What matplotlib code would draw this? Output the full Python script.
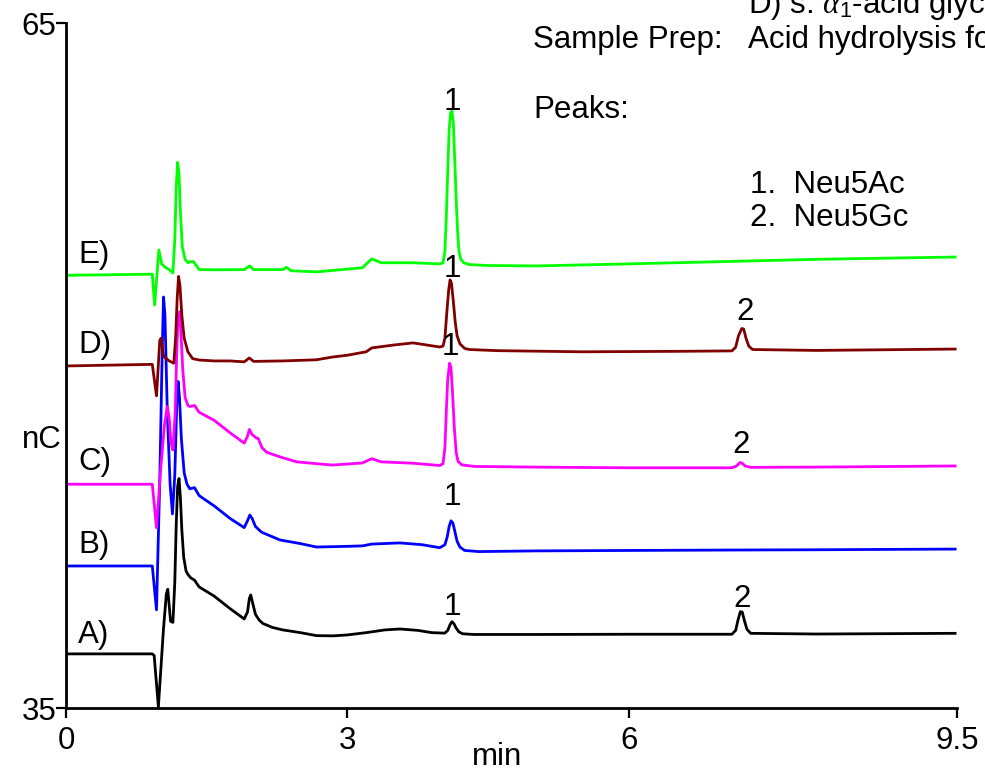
import matplotlib
matplotlib.use("Agg")
import matplotlib.pyplot as plt

plt.rcParams['font.family'] = ['Liberation Sans', 'DejaVu Sans']
plt.rcParams['mathtext.fontset'] = 'custom'
plt.rcParams['mathtext.rm'] = 'Liberation Sans'
plt.rcParams['mathtext.it'] = 'Liberation Serif:italic'

# ---- data (time in min, signal in nC) ----
t_A = [0, 0.92, 0.94, 0.985, 1.04, 1.07, 1.085, 1.115, 1.14, 1.16, 1.175, 1.19, 1.205, 1.22, 1.235, 1.255,
       1.28, 1.30, 1.33, 1.37, 1.42, 1.58, 1.75, 1.90, 1.935, 1.955, 1.97, 1.99, 2.02, 2.06, 2.10, 2.20,
       2.31, 2.50, 2.67, 2.85, 3.0, 3.2, 3.4, 3.56, 3.75, 3.90, 4.04, 4.07, 4.095, 4.115, 4.135, 4.16,
       4.19, 4.23, 4.35, 4.6, 5.0, 6.0, 7.10, 7.14, 7.165, 7.19, 7.21, 7.235, 7.26, 7.30, 8.0, 9.48]
y_A = [37.37, 37.37, 37.3, 35.05, 38.5, 40.0, 40.2, 38.8, 38.75, 40.5, 43.0, 44.7, 45.05, 44.2, 42.8, 41.6,
       41.0, 40.85, 40.7, 40.6, 40.3, 39.9, 39.35, 38.9, 39.2, 39.8, 39.95, 39.6, 39.1, 38.85, 38.7, 38.53,
       38.42, 38.3, 38.17, 38.16, 38.2, 38.3, 38.42, 38.46, 38.4, 38.3, 38.28, 38.4, 38.65, 38.78, 38.7, 38.5,
       38.33, 38.25, 38.22, 38.22, 38.22, 38.23, 38.23, 38.4, 38.85, 39.22, 39.2, 38.8, 38.45, 38.27, 38.24, 38.27]

t_B = [0, 0.92, 0.965, 1.00, 1.025, 1.04, 1.055, 1.08, 1.11, 1.135, 1.16, 1.18, 1.195, 1.21, 1.23, 1.26,
       1.29, 1.32, 1.37, 1.42, 1.58, 1.75, 1.90, 1.935, 1.96, 1.985, 2.02, 2.085, 2.20, 2.28, 2.50, 2.67,
       3.0, 3.16, 3.26, 3.56, 3.80, 3.985, 4.04, 4.065, 4.085, 4.105, 4.125, 4.145, 4.17, 4.20, 4.25, 4.40,
       5.0, 6.0, 7.2, 8.0, 9.48]
y_B = [41.22, 41.22, 39.3, 45.0, 50.5, 53.0, 52.2, 48.0, 44.8, 43.5, 45.2, 48.2, 49.3, 48.6, 46.8, 45.3,
       44.8, 44.6, 44.65, 44.3, 43.85, 43.3, 42.9, 43.2, 43.45, 43.3, 42.95, 42.7, 42.5, 42.36, 42.2, 42.05,
       42.08, 42.1, 42.18, 42.23, 42.15, 42.02, 42.15, 42.5, 42.95, 43.2, 43.1, 42.75, 42.3, 42.05, 41.9, 41.85,
       41.88, 41.9, 41.92, 41.93, 41.96]

t_C = [0, 0.92, 0.965, 1.01, 1.05, 1.08, 1.10, 1.12, 1.14, 1.165, 1.18, 1.195, 1.21, 1.225, 1.245, 1.27,
       1.30, 1.32, 1.37, 1.42, 1.58, 1.75, 1.90, 1.935, 1.955, 1.98, 2.02, 2.05, 2.09, 2.14, 2.28, 2.46,
       2.67, 2.84, 3.16, 3.26, 3.36, 3.7, 3.985, 4.02, 4.04, 4.055, 4.07, 4.09, 4.105, 4.12, 4.14, 4.16,
       4.18, 4.22, 4.35, 5.0, 6.0, 7.1, 7.15, 7.185, 7.21, 7.24, 7.30, 8.0, 9.48]
y_C = [44.8, 44.8, 42.9, 45.5, 47.4, 48.2, 47.7, 46.6, 46.3, 48.0, 50.5, 52.2, 52.35, 51.5, 49.8, 48.6,
       48.25, 48.2, 48.25, 47.95, 47.6, 47.05, 46.6, 46.9, 47.2, 47.0, 46.85, 46.8, 46.4, 46.2, 46.0, 45.78,
       45.7, 45.64, 45.73, 45.92, 45.78, 45.72, 45.62, 45.7, 46.4, 48.0, 49.4, 50.1, 49.9, 48.9, 47.3, 46.2,
       45.8, 45.65, 45.58, 45.55, 45.52, 45.52, 45.6, 45.75, 45.72, 45.6, 45.54, 45.55, 45.6]

t_D = [0, 0.92, 0.965, 1.0, 1.015, 1.04, 1.10, 1.15, 1.17, 1.185, 1.20, 1.215, 1.235, 1.26, 1.30, 1.35,
       1.42, 1.58, 1.75, 1.90, 1.955, 2.00, 2.31, 2.67, 2.84, 3.0, 3.2, 3.26, 3.5, 3.70, 3.985, 4.02,
       4.04, 4.06, 4.08, 4.095, 4.11, 4.13, 4.15, 4.17, 4.20, 4.25, 4.30, 4.60, 5.5, 6.5, 7.10, 7.14, 7.17,
       7.205, 7.225, 7.25, 7.28, 7.32, 8.0, 9.48]
y_D = [49.98, 50.05, 48.67, 51.1, 51.2, 50.4, 50.2, 50.1, 51.3, 52.9, 53.9, 53.5, 52.2, 51.2, 50.6, 50.3,
       50.24, 50.2, 50.2, 50.16, 50.33, 50.18, 50.2, 50.25, 50.37, 50.45, 50.6, 50.77, 50.9, 50.99, 50.81, 50.85,
       51.2, 52.3, 53.3, 53.75, 53.6, 52.8, 51.9, 51.3, 50.95, 50.75, 50.7, 50.65, 50.6, 50.62, 50.64, 50.8, 51.3,
       51.62, 51.6, 51.2, 50.85, 50.7, 50.66, 50.72]

t_E = [0, 0.92, 0.945, 0.99, 1.02, 1.06, 1.10, 1.14, 1.16, 1.175, 1.19, 1.205, 1.22, 1.24, 1.27, 1.30,
       1.33, 1.36, 1.42, 1.58, 1.90, 1.957, 2.0, 2.31, 2.35, 2.40, 2.67, 3.16, 3.26, 3.36, 3.7, 3.985,
       4.02, 4.04, 4.055, 4.07, 4.085, 4.10, 4.115, 4.13, 4.145, 4.16, 4.175, 4.19, 4.21, 4.24, 4.30,
       4.5, 5.0, 6.0, 7.0, 8.0, 9.48]
y_E = [53.95, 54.0, 52.65, 55.06, 54.45, 54.3, 54.2, 54.05, 55.5, 57.8, 58.9, 58.4, 56.7, 55.2, 54.65, 54.5,
       54.55, 54.55, 54.2, 54.19, 54.2, 54.36, 54.2, 54.2, 54.3, 54.15, 54.1, 54.28, 54.67, 54.5, 54.5, 54.45,
       54.5, 55.0, 56.5, 58.5, 60.3, 61.05, 61.15, 60.6, 59.0, 57.3, 55.9, 55.0, 54.65, 54.5, 54.42,
       54.38, 54.36, 54.45, 54.55, 54.65, 54.75]

trace_names = ["A)", "B)", "C)", "D)", "E)"]
trace_colors = ["#000000", "#0000FF", "#FF00FF", "#800000", "#00FF00"]
trace_label_y = [38.2, 42.14, 45.78, 50.9, 54.84]

peak_labels = ["1", "1", "1", "1", "1", "2", "2", "2"]
peak_label_t = [4.12, 4.12, 4.10, 4.12, 4.12, 7.21, 7.20, 7.24]
peak_label_y = [39.42, 44.26, 50.82, 54.22, 61.52, 39.77, 46.52, 52.34]

x_ticks = [0, 3, 6, 9.5]
x_tick_labels = ["0", "3", "6", "9.5"]
y_ticks = [35, 65]
y_tick_labels = ["35", "65"]

fs = 22.5
fig = plt.figure(figsize=(9.85, 7.72), dpi=100)
ax = fig.add_axes([66/985, 1-708/772, (957-66)/985, (708-23)/772])

series = [(t_A, y_A), (t_B, y_B), (t_C, y_C), (t_D, y_D), (t_E, y_E)]
for (t, y), c in zip(series, trace_colors):
    ax.plot(t, y, color=c, lw=2.0, solid_joinstyle='round')

for name, ly in zip(trace_names, trace_label_y):
    ax.text(0.13, ly, name, fontsize=fs, ha='left', va='center')

for lab, lt, ly in zip(peak_labels, peak_label_t, peak_label_y):
    ax.text(lt, ly, lab, fontsize=fs, ha='center', va='center')

ax.set_xlim(0, 9.5)
ax.set_ylim(35, 65)
ax.set_xticks(x_ticks)
ax.set_xticklabels(x_tick_labels, fontsize=fs)
ax.set_yticks(y_ticks)
ax.set_yticklabels(y_tick_labels, fontsize=fs)
ax.tick_params(axis='both', direction='out', length=7, width=1.6)
ax.tick_params(axis='x', pad=6)
ax.tick_params(axis='y', pad=0)
for s in ['top', 'right']:
    ax.spines[s].set_visible(False)
for s in ['left', 'bottom']:
    ax.spines[s].set_linewidth(2)

fig.text(42/985, 1-440/772, "nC", fontsize=fs, ha='center', va='center')
fig.text(497/985, 1-757/772, "min", fontsize=fs, ha='center', va='center')

fig.text(748/985, 1-5/772, r"D) s. $\alpha_{\mathrm{1}}$-acid glycoprotein", fontsize=fs, ha='left', va='center')
fig.text(533/985, 1-40/772, "Sample Prep:", fontsize=fs, ha='left', va='center')
fig.text(748/985, 1-40/772, "Acid hydrolysis for sialic acids", fontsize=fs, ha='left', va='center')
fig.text(533/985, 1-110/772, "Peaks:", fontsize=fs, ha='left', va='center')
fig.text(750/985, 1-185/772, "1.  Neu5Ac", fontsize=fs, ha='left', va='center')
fig.text(750/985, 1-218/772, "2.  Neu5Gc", fontsize=fs, ha='left', va='center')

fig.savefig("out.png", dpi=100)
